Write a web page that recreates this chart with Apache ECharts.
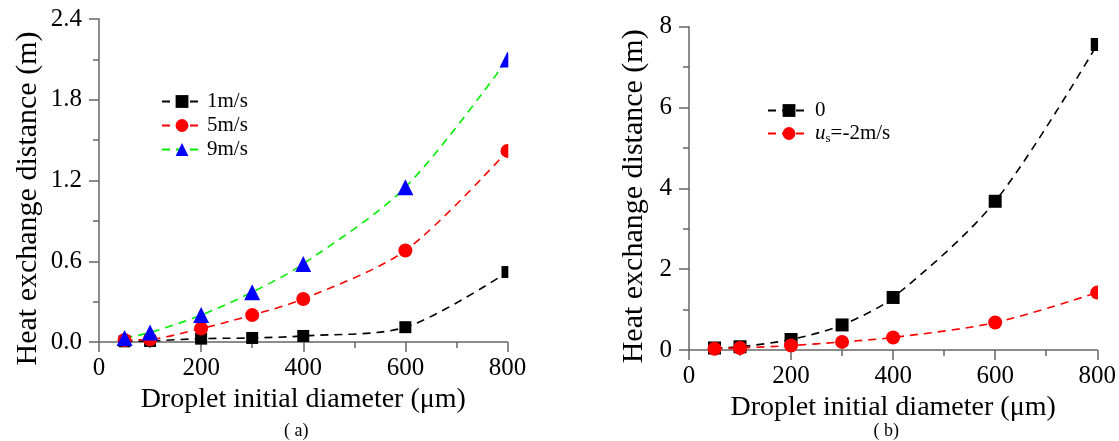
<!DOCTYPE html>
<html>
<head>
<meta charset="utf-8">
<script src="https://cdn.jsdelivr.net/npm/echarts@6/dist/echarts.min.js"></script>
<style>
  html, body { margin: 0; padding: 0; background: #fff; }
  #chart { width: 1119px; height: 441px; }
</style>
</head>
<body>
<div id="chart"></div>
<script>
// Droplet initial diameter (μm)
const diameters = [50, 100, 200, 300, 400, 600, 800];

// Panel (a): heat exchange distance (m) at three velocities
const dist1 = [0.005, 0.008, 0.025, 0.03, 0.045, 0.11, 0.52];
const dist5 = [0.015, 0.02, 0.1, 0.2, 0.32, 0.68, 1.42];
const dist9 = [0.03, 0.07, 0.2, 0.37, 0.58, 1.15, 2.1];

// Panel (b): heat exchange distance (m) for u_s = 0 and u_s = -2 m/s
const distUs0 = [0.05, 0.08, 0.26, 0.62, 1.3, 3.68, 7.56];
const distUsNeg2 = [0.03, 0.05, 0.11, 0.2, 0.31, 0.68, 1.42];

const namesA = ['1m/s', '5m/s', '9m/s'];
const namesB = ['0', 'us=-2m/s'];
const captions = ['( a)', '( b)'];

const FONT = '"Liberation Serif", "Times New Roman", serif';
const AXIS_COLOR = '#666';

function pairs(xs, ys) {
  return xs.map((x, i) => [x, ys[i]]);
}

function xAxisFor(gridIndex, nameGap) {
  return {
    type: 'value', gridIndex, min: 0, max: 800, interval: 200,
    name: 'Droplet initial diameter (μm)', nameLocation: 'middle', nameGap,
    nameTextStyle: { fontFamily: FONT, fontSize: 28, color: '#000' },
    axisLine: { show: true, lineStyle: { color: AXIS_COLOR, width: 1.5 } },
    axisTick: { show: true, length: 10, lineStyle: { color: AXIS_COLOR, width: 1.5 } },
    minorTick: { show: true, splitNumber: 2, length: 6, lineStyle: { color: AXIS_COLOR, width: 1.5 } },
    axisLabel: { fontFamily: FONT, fontSize: 25, color: '#000', margin: 14 },
    splitLine: { show: false }, minorSplitLine: { show: false }
  };
}

function yAxisFor(gridIndex, max, interval, decimals, nameGap, shift, labelMargin) {
  return {
    type: 'value', gridIndex, min: 0, max, interval,
    name: 'Heat exchange distance (m)', nameLocation: 'middle', nameGap,
    nameTextStyle: { fontFamily: FONT, fontSize: 30, color: '#000', padding: [0, shift, 0, 0] },
    axisLine: { show: true, lineStyle: { color: AXIS_COLOR, width: 1.5 } },
    axisTick: { show: true, length: 10, lineStyle: { color: AXIS_COLOR, width: 1.5 } },
    minorTick: { show: true, splitNumber: 2, length: 6, lineStyle: { color: AXIS_COLOR, width: 1.5 } },
    axisLabel: {
      fontFamily: FONT, fontSize: 25, color: '#000', margin: labelMargin,
      formatter: v => v.toFixed(decimals)
    },
    splitLine: { show: false }, minorSplitLine: { show: false }
  };
}

function lineSeries(name, xi, yi, ys, color, symbol, size) {
  return {
    name, type: 'line', xAxisIndex: xi, yAxisIndex: yi,
    data: pairs(diameters, ys),
    smooth: 0.3,
    symbol, symbolSize: size,
    lineStyle: { color, width: 1.6, type: [8, 6] },
    itemStyle: { color, borderWidth: 0 },
    emphasis: { disabled: true },
    z: 3
  };
}

const legendText = {
  fontFamily: FONT, fontSize: 21, color: '#000',
  rich: {
    i: { fontFamily: FONT, fontSize: 21, fontStyle: 'italic', color: '#000' },
    s: { fontFamily: FONT, fontSize: 13, color: '#000', verticalAlign: 'bottom', padding: [10, 0, 0, 0] },
    t: { fontFamily: FONT, fontSize: 21, color: '#000' }
  }
};

const chart = echarts.init(document.getElementById('chart'), null, { renderer: 'canvas' });

chart.setOption({
  backgroundColor: '#fff',
  animation: false,
  grid: [
    { left: 99, top: 19, width: 408.5, height: 323 },
    { left: 689, top: 26.7, width: 410, height: 323.3 }
  ],
  xAxis: [xAxisFor(0, 42), xAxisFor(1, 40)],
  yAxis: [
    yAxisFor(0, 2.4, 0.6, 1, 56, 36, 17),
    yAxisFor(1, 8, 2, 0, 40, 16, 17)
  ],
  legend: [
    {
      data: namesA, orient: 'vertical', left: 156, top: 86,
      itemWidth: 40, itemHeight: 16, itemGap: 3,
      textStyle: legendText,
      selectedMode: false
    },
    {
      data: namesB, orient: 'vertical', left: 762, top: 95,
      itemWidth: 42, itemHeight: 16, itemGap: 2,
      textStyle: legendText,
      formatter: name => name === namesB[1] ? '{i|u}{s|s}{t|=-2m/s}' : name,
      selectedMode: false
    }
  ],
  series: [
    lineSeries(namesA[0], 0, 0, dist1, '#000000', 'rect', 12),
    lineSeries(namesA[1], 0, 0, dist5, '#ff0000', 'circle', 14),
    lineSeries(namesA[2], 0, 0, dist9, '#00ee00', 'triangle', 16),
    lineSeries(namesB[0], 1, 1, distUs0, '#000000', 'rect', 13),
    lineSeries(namesB[1], 1, 1, distUsNeg2, '#ff0000', 'circle', 14)
  ]
});

// Blue markers for the 9 m/s series while its dashed line stays green
chart.setOption({
  series: [{}, {}, { itemStyle: { color: '#0000ff' } }]
});

// Markers at the end of the x range are cut at the plot edge; captions below each panel
function edgeMask(xi, yi, xMax, yMax) {
  const tr = chart.convertToPixel({ xAxisIndex: xi, yAxisIndex: yi }, [xMax, yMax]);
  const br = chart.convertToPixel({ xAxisIndex: xi, yAxisIndex: yi }, [xMax, 0]);
  return {
    type: 'rect', z: 50,
    shape: { x: tr[0] + 0.8, y: tr[1] - 20, width: 22, height: br[1] - tr[1] + 18 },
    style: { fill: '#fff' }, silent: true
  };
}

function caption(text, xi, yi, xMid) {
  const p = chart.convertToPixel({ xAxisIndex: xi, yAxisIndex: yi }, [xMid, 0]);
  return {
    type: 'text', z: 50, x: p[0] - 7, y: 431,
    style: { text, fontFamily: FONT, fontSize: 18, fill: '#000', align: 'center', verticalAlign: 'middle' }
  };
}

chart.setOption({
  graphic: [
    edgeMask(0, 0, 800, 2.4),
    edgeMask(1, 1, 800, 8),
    caption(captions[0], 0, 0, 400),
    caption(captions[1], 1, 1, 400)
  ]
});
</script>
</body>
</html>
